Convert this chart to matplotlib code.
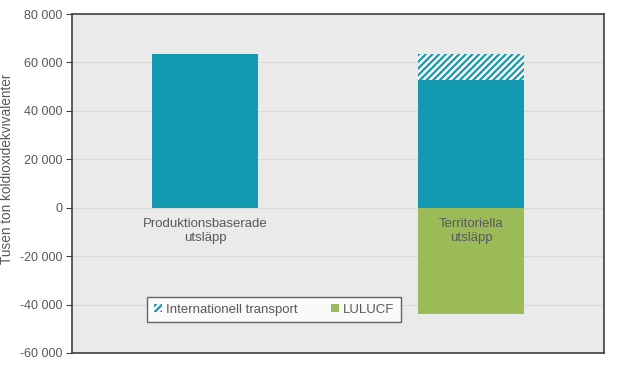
import matplotlib.pyplot as plt
from matplotlib.patches import Patch
from matplotlib.ticker import FuncFormatter

plt.rcParams['font.family'] = ['Liberation Sans', 'DejaVu Sans']
plt.rcParams['hatch.linewidth'] = 1.6

categories = ["Produktionsbaserade\nutsläpp", "Territoriella\nutsläpp"]
domestic = [63500, 52700]
intl_transport = [0, 10800]
lulucf = [0, -43700]

TEAL = '#1399B0'
GREEN = '#9BBB59'
TXT = '#595959'
HATCH = '/' * 5


def fmt(v, pos):
    return f"{int(v):,}".replace(",", " ")


def main():
    fig = plt.figure(figsize=(6.22, 3.69), dpi=100)
    ax = fig.add_axes([0.1158, 0.0434, 0.8553, 0.9186])
    ax.set_facecolor('#EAEAEA')
    x = range(len(categories))

    ax.bar(x, domestic, width=0.4, color=TEAL, zorder=2)
    ax.bar(x, intl_transport, width=0.4, bottom=domestic, facecolor='white',
           edgecolor=TEAL, hatch=HATCH, linewidth=0, zorder=2)
    ax.bar(x, lulucf, width=0.4, color=GREEN, linewidth=0, zorder=2)

    for i, lab in zip(x, categories):
        ax.annotate(lab, (i, 0), xytext=(0, -7.5), textcoords='offset points',
                    ha='center', va='top', fontsize=9.5, color=TXT,
                    linespacing=1.25, zorder=3)

    ax.set_xlim(-0.5, 1.5)
    ax.set_ylim(-60000, 80000)
    ax.set_yticks(range(-60000, 80001, 20000))
    ax.yaxis.set_major_formatter(FuncFormatter(fmt))
    ax.set_xticks([])
    ax.grid(axis='y', color='#D9D9D9', linewidth=0.8, zorder=0)
    ax.set_axisbelow(True)
    ax.tick_params(axis='y', direction='out', length=4, color='#404040',
                   labelsize=9, labelcolor=TXT, pad=3)
    for s in ax.spines.values():
        s.set_color('#404040')
        s.set_linewidth(1.2)

    ax.set_ylabel("Tusen ton koldioxidekvivalenter", fontsize=9.8, color=TXT)
    ax.yaxis.set_label_coords(-0.109, 0.542)

    handles = [Patch(facecolor='white', edgecolor=TEAL, hatch=HATCH, linewidth=0),
               Patch(facecolor=GREEN)]
    leg = ax.legend(handles, ["Internationell transport", "LULUCF"], ncol=2,
                    loc='lower left', bbox_to_anchor=(0.141, 0.091, 0.477, 0.074),
                    mode='expand', borderaxespad=0, fontsize=9.5, frameon=True,
                    fancybox=False, handlelength=0.6, handleheight=0.6,
                    handletextpad=0.3, columnspacing=1.4, borderpad=0.5)
    leg.get_frame().set_edgecolor('#404040')
    leg.get_frame().set_linewidth(1.0)
    for t in leg.get_texts():
        t.set_color(TXT)

    fig.savefig('out.png', dpi=100)


if __name__ == "__main__":
    main()
